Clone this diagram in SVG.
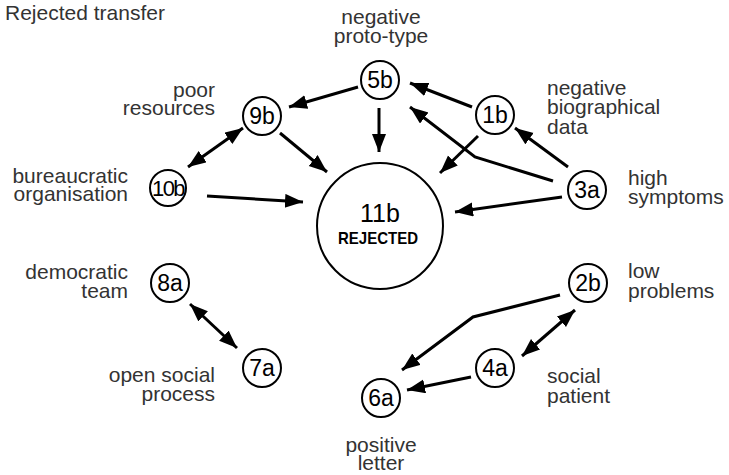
<svg xmlns="http://www.w3.org/2000/svg" width="729" height="475" viewBox="0 0 729 475">
  <defs>
    <marker id="head" markerUnits="userSpaceOnUse" markerWidth="20" markerHeight="16" refX="18" refY="7" orient="auto-start-reverse">
      <path d="M0,0 L18,7 L0,14 z" fill="#000"/>
    </marker>
    <style>
      .lbl { font-family: "Liberation Sans", Arial, sans-serif; font-size: 21px; fill: #333; }
      .r { text-anchor: end; }
      .m { text-anchor: middle; }
      .node circle { fill: #fff; stroke: #000; stroke-width: 2; }
      .node text { font-family: "Liberation Sans", Arial, sans-serif; font-size: 23px; fill: #000; text-anchor: middle; }
      .edge { fill: none; stroke: #000; stroke-width: 3; marker-end: url(#head); }
      .both { marker-start: url(#head); }
    </style>
  </defs>
  <rect width="729" height="475" fill="#fff"/>

  <text class="lbl" x="5" y="20">Rejected transfer</text>

  <!-- connectors -->
  <g id="connectors">
    <path class="edge" d="M358,87 L289,107"/>
    <path class="edge" d="M379,108 L379,152"/>
    <path class="edge" d="M472,107 L410,83"/>
    <path class="edge" d="M553,181 L475,157 L410,107"/>
    <path class="edge" d="M478,136 L440,173"/>
    <path class="edge" d="M568,167 L515,128"/>
    <path class="edge" d="M562,197 L455,212"/>
    <path class="edge" d="M280,133 L327,172"/>
    <path class="edge both" d="M188,167 L243,128"/>
    <path class="edge" d="M207,196 L303,202"/>
    <path class="edge both" d="M190,304 L237,348"/>
    <path class="edge both" d="M575,310 L522,356"/>
    <path class="edge" d="M560,295 L473,317 L402,370"/>
    <path class="edge" d="M471,377 L407,390"/>
  </g>

  <!-- nodes -->
  <g id="n11b" class="node">
    <circle cx="380" cy="226" r="63"/>
    <text x="380" y="222" style="font-size:25px">11b</text>
    <text x="378" y="244" style="font-size:17px;font-weight:bold" textLength="80" lengthAdjust="spacingAndGlyphs">REJECTED</text>
  </g>
  <g id="n5b" class="node">
    <circle cx="380" cy="80" r="19"/>
    <text x="380" y="88">5b</text>
  </g>
  <g id="n9b" class="node">
    <circle cx="262" cy="116" r="19"/>
    <text x="262" y="124">9b</text>
  </g>
  <g id="n1b" class="node">
    <circle cx="495" cy="115" r="19"/>
    <text x="495" y="123">1b</text>
  </g>
  <g id="n3a" class="node">
    <circle cx="587" cy="190" r="19"/>
    <text x="587" y="198">3a</text>
  </g>
  <g id="n10b" class="node">
    <circle cx="168" cy="188" r="18"/>
    <text x="168" y="196" style="font-size:22px;letter-spacing:-1.5px">10b</text>
  </g>
  <g id="n8a" class="node">
    <circle cx="170" cy="283" r="19"/>
    <text x="170" y="291">8a</text>
  </g>
  <g id="n7a" class="node">
    <circle cx="262" cy="368" r="19"/>
    <text x="262" y="376">7a</text>
  </g>
  <g id="n2b" class="node">
    <circle cx="588" cy="283" r="19"/>
    <text x="588" y="291">2b</text>
  </g>
  <g id="n4a" class="node">
    <circle cx="495" cy="368" r="19"/>
    <text x="495" y="376">4a</text>
  </g>
  <g id="n6a" class="node">
    <circle cx="381" cy="398" r="19"/>
    <text x="381" y="406">6a</text>
  </g>

  <!-- labels -->
  <g id="labels">
    <text class="lbl m" x="381" y="24">negative</text>
    <text class="lbl m" x="381" y="43">proto-type</text>
    <text class="lbl r" x="215" y="97">poor</text>
    <text class="lbl r" x="215" y="115">resources</text>
    <text class="lbl r" x="128" y="183">bureaucratic</text>
    <text class="lbl r" x="128" y="201">organisation</text>
    <text class="lbl r" x="128" y="279">democratic</text>
    <text class="lbl r" x="128" y="298">team</text>
    <text class="lbl r" x="215" y="382">open social</text>
    <text class="lbl r" x="215" y="401">process</text>
    <text class="lbl" x="547" y="95">negative</text>
    <text class="lbl" x="547" y="114">biographical</text>
    <text class="lbl" x="547" y="134">data</text>
    <text class="lbl" x="628" y="185">high</text>
    <text class="lbl" x="628" y="204">symptoms</text>
    <text class="lbl" x="628" y="278">low</text>
    <text class="lbl" x="628" y="298">problems</text>
    <text class="lbl" x="547" y="383">social</text>
    <text class="lbl" x="547" y="403">patient</text>
    <text class="lbl m" x="381" y="452">positive</text>
    <text class="lbl m" x="381" y="470">letter</text>
  </g>
</svg>
